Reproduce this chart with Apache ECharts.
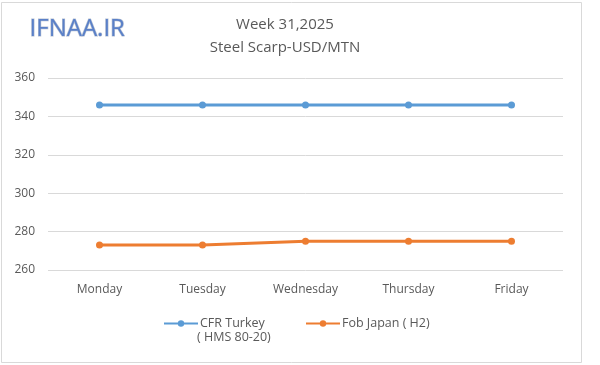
<!DOCTYPE html>
<html>
<head>
<meta charset="utf-8">
<script src="https://cdn.jsdelivr.net/npm/echarts@6/dist/echarts.min.js"></script>
<style>html,body{margin:0;padding:0;background:#fff}#c{width:600px;height:365px}</style>
</head>
<body>
<div id="c"></div>
<script>
var days = ['Monday', 'Tuesday', 'Wednesday', 'Thursday', 'Friday'];
var cfrTurkey = [346, 346, 346, 346, 346];
var fobJapan = [273, 273, 275, 275, 275];
var yTicks = [260, 280, 300, 320, 340, 360];
var titleLines = ['Week 31,2025', 'Steel Scarp-USD/MTN'];

var FONT = '"Open Sans", "Noto Sans", sans-serif';
var chart = echarts.init(document.getElementById('c'), null, {renderer: 'canvas'});
chart.setOption({
  animation: false,
  backgroundColor: '#fff',
  title: {
    text: titleLines.join('\n'),
    left: 280, top: 8, textAlign: 'center',
    textStyle: {fontFamily: FONT, fontSize: 15, fontWeight: 'normal', color: '#595959', lineHeight: 23}
  },
  graphic: [
    {type: 'rect', shape: {x: 1.5, y: 2.5, width: 580, height: 360}, style: {fill: 'none', stroke: '#d9d9d9', lineWidth: 1}, silent: true},
    {type: 'text', left: 29, top: 17, style: {text: 'IFNAA.IR', font: '24px "Open Sans", sans-serif', fill: '#5a80c8', stroke: '#b9c3d3', lineWidth: 1.2}},
    {type: 'text', left: 197, top: 331, style: {text: '( HMS 80-20)', font: '12.5px "Open Sans", sans-serif', fill: '#595959'}}
  ],
  legend: [
    {data: ['CFR Turkey'], left: 158, top: 312, itemWidth: 34, itemHeight: 8, itemGap: 0,
      textStyle: {fontFamily: FONT, fontSize: 12.5, color: '#595959', padding: [0, 0, 0, -3]}},
    {data: ['Fob Japan ( H2)'], left: 300, top: 312, itemWidth: 34, itemHeight: 8, itemGap: 0,
      textStyle: {fontFamily: FONT, fontSize: 12.5, color: '#595959', padding: [0, 0, 0, -3]}}
  ],
  grid: {left: 48, right: 37, top: 78, bottom: 95, containLabel: false},
  xAxis: {
    type: 'category', data: days, boundaryGap: true,
    axisLine: {show: false}, axisTick: {show: false},
    axisLabel: {fontFamily: FONT, fontSize: 12, color: '#595959', margin: 14}
  },
  yAxis: {
    type: 'value', min: 260, max: 360, interval: 20,
    axisLine: {show: false}, axisTick: {show: false},
    splitLine: {lineStyle: {color: '#d9d9d9', width: 1}},
    axisLabel: {fontFamily: FONT, fontSize: 12, color: '#595959', margin: 13,
      formatter: function (v) { return yTicks.indexOf(v) >= 0 ? String(v) : ''; }}
  },
  series: [
    {name: 'CFR Turkey', type: 'line', data: cfrTurkey, symbol: 'circle', symbolSize: 7,
      itemStyle: {color: '#5b9bd5'}, lineStyle: {color: '#5b9bd5', width: 3}},
    {name: 'Fob Japan ( H2)', type: 'line', data: fobJapan, symbol: 'circle', symbolSize: 7,
      itemStyle: {color: '#ed7d31'}, lineStyle: {color: '#ed7d31', width: 3}}
  ]
});
</script>
</body>
</html>
